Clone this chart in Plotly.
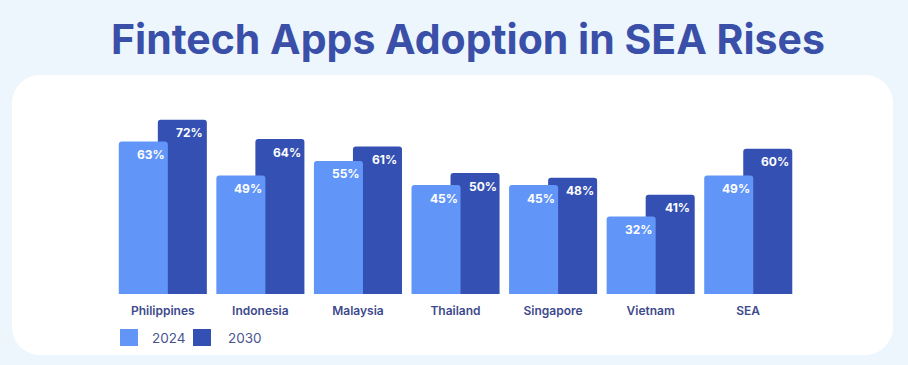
import plotly.graph_objects as go

categories = ["Philippines", "Indonesia", "Malaysia", "Thailand", "Singapore", "Vietnam", "SEA"]
values_2024 = [63, 49, 55, 45, 45, 32, 49]
values_2030 = [72, 64, 61, 50, 48, 41, 60]
series_names = ["2024", "2030"]

C2024 = "#6196F8"
C2030 = "#3550B3"
BG = "#EDF6FD"
TXT = "#3D4A8C"
FONT = "Inter"

W, H = 908, 365
L, R, T, B = 114, 111, 112, 71
PW, PH = W - L - R, H - T - B


def px(x):
    return (x - L) / PW


def py(y):
    return (H - B - y) / PH


def rounded_rect(x0, y0, x1, y1, r):
    k = 0.4477
    pts = [
        f"M {px(x0 + r)},{py(y0)}",
        f"L {px(x1 - r)},{py(y0)}",
        f"C {px(x1 - r * k)},{py(y0)} {px(x1)},{py(y0 + r * k)} {px(x1)},{py(y0 + r)}",
        f"L {px(x1)},{py(y1 - r)}",
        f"C {px(x1)},{py(y1 - r * k)} {px(x1 - r * k)},{py(y1)} {px(x1 - r)},{py(y1)}",
        f"L {px(x0 + r)},{py(y1)}",
        f"C {px(x0 + r * k)},{py(y1)} {px(x0)},{py(y1 - r * k)} {px(x0)},{py(y1 - r)}",
        f"L {px(x0)},{py(y0 + r)}",
        f"C {px(x0)},{py(y0 + r * k)} {px(x0 + r * k)},{py(y0)} {px(x0 + r)},{py(y0)}",
        "Z",
    ]
    return " ".join(pts)


fig = go.Figure()
fig.add_trace(go.Bar(
    x=categories, y=values_2030, name=series_names[1],
    marker=dict(color=C2030, cornerradius=3, line=dict(width=0)),
    width=0.5026, offset=-0.051, hoverinfo="x+y",
))
fig.add_trace(go.Bar(
    x=categories, y=values_2024, name=series_names[0],
    marker=dict(color=C2024, cornerradius=3, line=dict(width=0)),
    width=0.5026, offset=-0.451, hoverinfo="x+y",
))

annotations = []
for c, v in zip(categories, values_2024):
    annotations.append(dict(x=c, y=v, text=f"{v}%", showarrow=False, xshift=-12, yshift=-13,
                            yanchor="middle", font=dict(family=FONT, size=12, color="white", weight=700)))
for c, v in zip(categories, values_2030):
    annotations.append(dict(x=c, y=v, text=f"{v}%", showarrow=False, xshift=27, yshift=-13,
                            yanchor="middle", font=dict(family=FONT, size=12, color="white", weight=700)))

# title
annotations.append(dict(xref="paper", yref="paper", x=px(468), y=py(39), text="Fintech Apps Adoption in SEA Rises",
                        showarrow=False, xanchor="center", yanchor="middle",
                        font=dict(family=FONT, size=41, color="#3A4FA8", weight=700)))

# panel and custom legend
shapes = [dict(type="path", xref="paper", yref="paper", path=rounded_rect(12, 75, 893, 355, 28),
               fillcolor="white", line=dict(width=0), layer="below")]
legend_items = [(series_names[0], C2024, 120, 150), (series_names[1], C2030, 193, 226)]
for name, col, sx, tx in legend_items:
    shapes.append(dict(type="rect", xref="paper", yref="paper", x0=px(sx), x1=px(sx + 18), y0=py(346), y1=py(329),
                       fillcolor=col, line=dict(width=0)))
    annotations.append(dict(xref="paper", yref="paper", x=px(tx), y=py(338), text=name, showarrow=False,
                            xanchor="left", yanchor="middle",
                            font=dict(family=FONT, size=13.5, color="#4A5590")))

fig.update_layout(
    width=W, height=H,
    margin=dict(l=L, r=R, t=T, b=B, pad=0),
    paper_bgcolor=BG, plot_bgcolor="rgba(0,0,0,0)",
    barmode="overlay", showlegend=False,
    shapes=shapes, annotations=annotations,
    xaxis=dict(type="category", range=[-0.5, 6.5], showgrid=False, zeroline=False, showline=False,
               ticks="", ticklabelstandoff=8,
               tickfont=dict(family=FONT, size=12, color=TXT, weight=600)),
    yaxis=dict(range=[0, PH / 2.42], showgrid=False, zeroline=False, showline=False, showticklabels=False, ticks=""),
)

fig.write_html(
    "out.html",
    config={"displayModeBar": False},
    post_script="document.body.style.margin='0';document.body.style.overflow='hidden';document.body.style.background='" + BG + "';",
)
